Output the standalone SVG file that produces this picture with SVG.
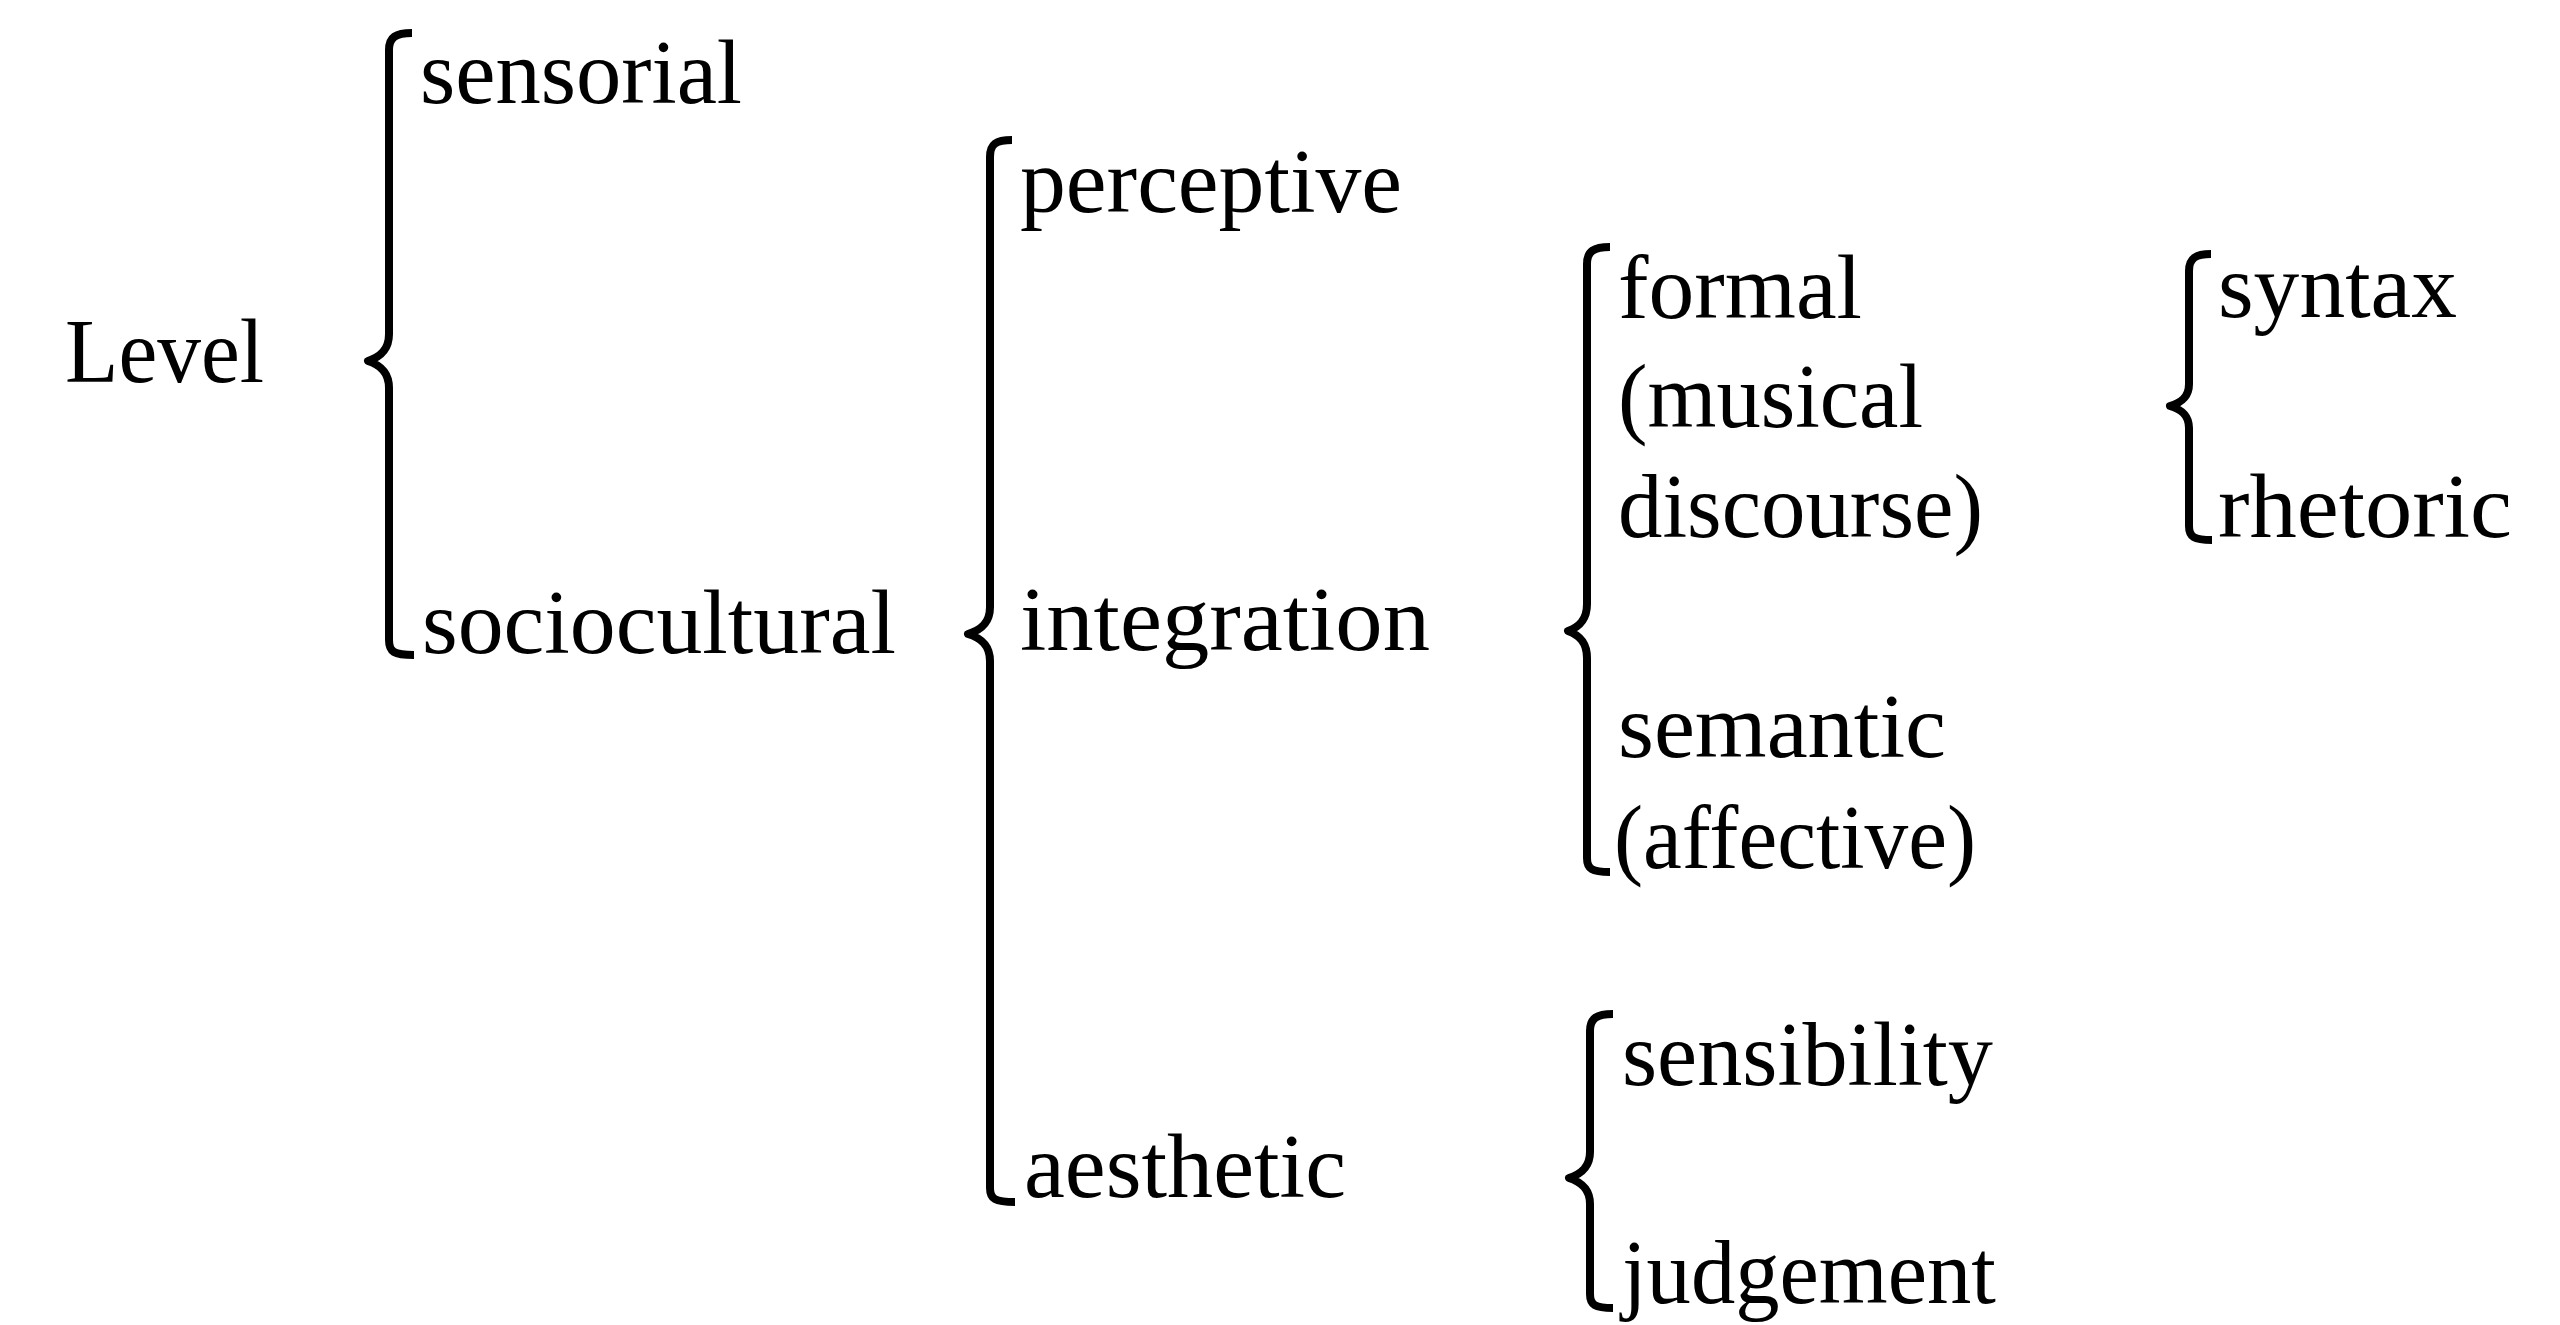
<svg xmlns="http://www.w3.org/2000/svg" width="2560" height="1325" viewBox="0 0 2560 1325">
  <style>
    .t { font-family: "Liberation Serif", "Times New Roman", serif; font-size: 90px; fill: #000; }
    .br { fill: none; stroke: #000; stroke-width: 8; stroke-linecap: butt; stroke-linejoin: round; }
  </style>
  <rect x="0" y="0" width="2560" height="1325" fill="#fff"/>

  <g id="connectors">
    <!-- Brace 1: Level -> sensorial / sociocultural -->
    <path class="br" d="M412 33 C396 33 389 37 389 50 L389 334 C389 350 380 357 368 361 C380 365 389 372 389 388 L389 640 C389 652 394 655 414 655"/>
    <!-- Brace 2: sociocultural -> perceptive / integration / aesthetic -->
    <path class="br" d="M1012 140 C996 140 990 144 990 157 L990 607 C990 623 981 630 968 634 C981 638 990 645 990 661 L990 1188 C990 1199 995 1202 1015 1202"/>
    <!-- Brace 3: integration -> formal / semantic -->
    <path class="br" d="M1610 247 C1594 247 1587 251 1587 264 L1587 604 C1587 620 1579 627 1568 631 C1579 635 1587 642 1587 658 L1587 858 C1587 869 1592 872 1610 872"/>
    <!-- Brace 4: formal -> syntax / rhetoric -->
    <path class="br" d="M2211 254 C2196 254 2189 258 2189 271 L2189 384 C2189 398 2180 403 2170 406 C2180 409 2189 414 2189 428 L2189 526 C2189 537 2194 540 2212 540"/>
    <!-- Brace 5: aesthetic -> sensibility / judgement -->
    <path class="br" d="M1613 1014 C1597 1014 1590 1018 1590 1031 L1590 1152 C1590 1167 1581 1174 1569 1178 C1581 1182 1590 1189 1590 1204 L1590 1294 C1590 1305 1595 1308 1613 1308"/>
  </g>

  <g id="node-level"><text class="t" x="65" y="382" textLength="199" lengthAdjust="spacingAndGlyphs">Level</text></g>
  <g id="node-sensorial"><text class="t" x="420" y="103" textLength="322" lengthAdjust="spacingAndGlyphs">sensorial</text></g>
  <g id="node-sociocultural"><text class="t" x="422" y="653" textLength="474" lengthAdjust="spacingAndGlyphs">sociocultural</text></g>
  <g id="node-perceptive"><text class="t" x="1020" y="212" textLength="382" lengthAdjust="spacingAndGlyphs">perceptive</text></g>
  <g id="node-integration"><text class="t" x="1020" y="650" textLength="410" lengthAdjust="spacingAndGlyphs">integration</text></g>
  <g id="node-aesthetic"><text class="t" x="1024" y="1197" textLength="322" lengthAdjust="spacingAndGlyphs">aesthetic</text></g>
  <g id="node-formal">
    <text class="t" x="1618" y="318" textLength="244" lengthAdjust="spacingAndGlyphs">formal</text>
    <text class="t" x="1618" y="427" textLength="305" lengthAdjust="spacingAndGlyphs">(musical</text>
    <text class="t" x="1618" y="537" textLength="365" lengthAdjust="spacingAndGlyphs">discourse)</text>
  </g>
  <g id="node-semantic">
    <text class="t" x="1618" y="757" textLength="328" lengthAdjust="spacingAndGlyphs">semantic</text>
    <text class="t" x="1614" y="868" textLength="362" lengthAdjust="spacingAndGlyphs">(affective)</text>
  </g>
  <g id="node-syntax"><text class="t" x="2218" y="317" textLength="239" lengthAdjust="spacingAndGlyphs">syntax</text></g>
  <g id="node-rhetoric"><text class="t" x="2218" y="537" textLength="294" lengthAdjust="spacingAndGlyphs">rhetoric</text></g>
  <g id="node-sensibility"><text class="t" x="1622" y="1085" textLength="371" lengthAdjust="spacingAndGlyphs">sensibility</text></g>
  <g id="node-judgement"><text class="t" x="1622" y="1303" textLength="374" lengthAdjust="spacingAndGlyphs">judgement</text></g>
</svg>
